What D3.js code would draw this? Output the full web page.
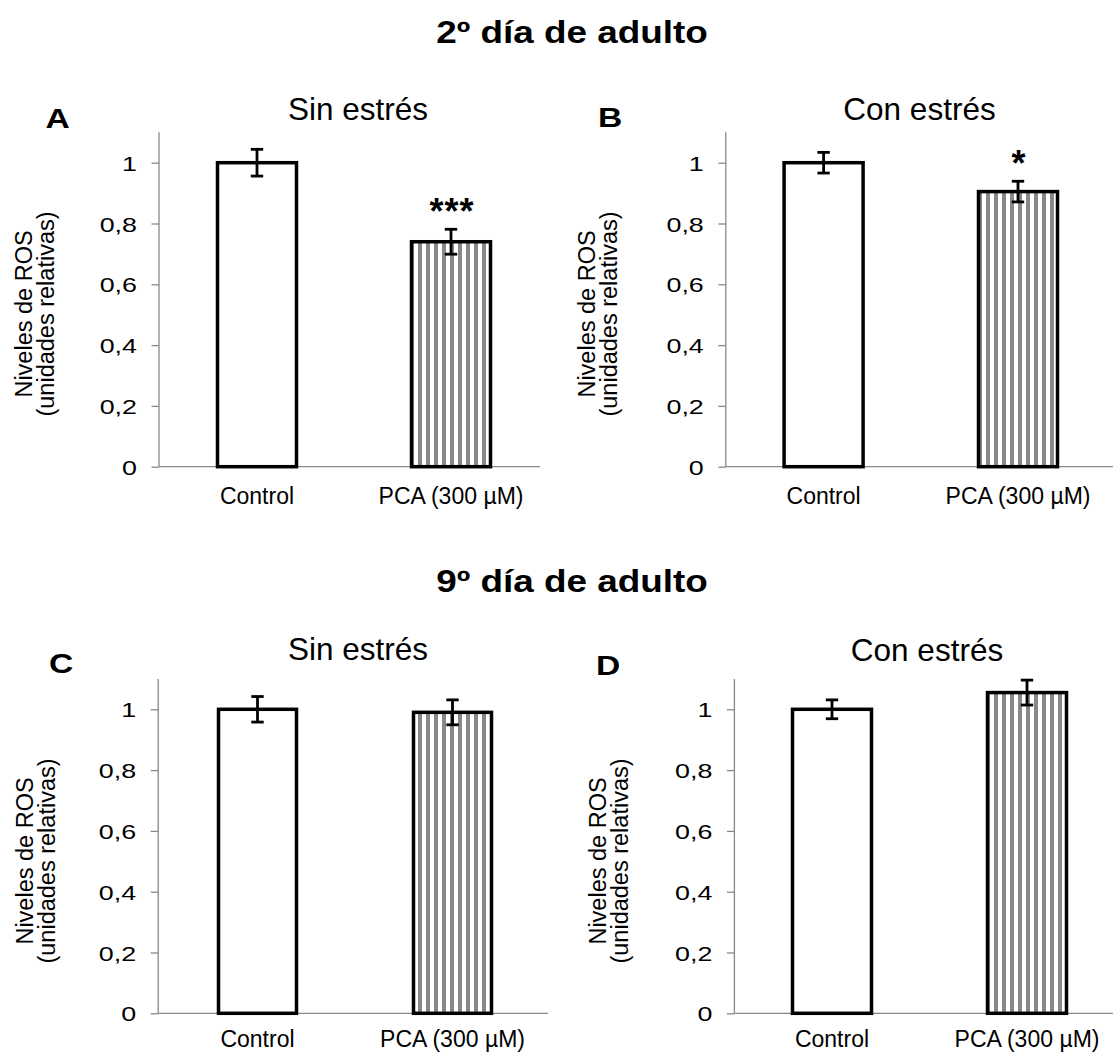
<!DOCTYPE html>
<html>
<head>
<meta charset="utf-8">
<script src="https://cdn.jsdelivr.net/npm/d3@7"></script>
<style>
  html, body { margin: 0; padding: 0; background: #fff; }
  svg { display: block; font-family: "Liberation Sans", Arial, sans-serif; }
</style>
</head>
<body>
<svg id="chart" width="1113" height="1054"></svg>
<script>
// ---------- data ----------
const categories = ["Control", "PCA (300 µM)"];
const rowTitles = ["2º día de adulto", "9º día de adulto"];
const panelLetters = ["A", "B", "C", "D"];
const panelTitles = ["Sin estrés", "Con estrés", "Sin estrés", "Con estrés"];
const valuesA = [1.00, 0.74];
const errorsA = [0.044, 0.041];
const valuesB = [1.00, 0.905];
const errorsB = [0.034, 0.034];
const valuesC = [1.00, 0.99];
const errorsC = [0.042, 0.041];
const valuesD = [1.00, 1.055];
const errorsD = [0.031, 0.041];
const signifA = ["", "***"];
const signifB = ["", "*"];
const signifC = ["", ""];
const signifD = ["", ""];
const yTicks = [0, 0.2, 0.4, 0.6, 0.8, 1];
const yTickLabels = ["0", "0,2", "0,4", "0,6", "0,8", "1"];
const yMax = 1.1;
const yLabelLines = ["Niveles de ROS", "(unidades relativas)"];

// ---------- layout (positions only) ----------
const layouts = [
  { axisX: 159, c0: 257, c1: 451, barW: 79, xEnd: 540, y0: 466.7, y1: 162.7, labY: 37,
    letter: [45.5, 128], title: [358, 119.5], yLab: [31.5, 314] },
  { axisX: 725.8, c0: 823.6, c1: 1018, barW: 79, xEnd: 1113, y0: 466.7, y1: 162.7, labY: 37,
    letter: [598, 127], title: [919.5, 120], yLab: [595, 314] },
  { axisX: 158.2, c0: 257.5, c1: 452.5, barW: 78, xEnd: 548, y0: 1013.3, y1: 709.3, labY: 34,
    letter: [49, 673], title: [358, 660], yLab: [33, 861] },
  { axisX: 734.4, c0: 832, c1: 1027, barW: 79, xEnd: 1113, y0: 1013.3, y1: 709.3, labY: 34,
    letter: [596, 675], title: [927, 661], yLab: [606, 861] }
];
const panelValues = [valuesA, valuesB, valuesC, valuesD];
const panelErrors = [errorsA, errorsB, errorsC, errorsD];
const panelSignif = [signifA, signifB, signifC, signifD];

const svg = d3.select("#chart");
const axisColor = "#898989";

// stripe pattern
const defs = svg.append("defs");
const pat = defs.append("pattern")
  .attr("id", "stripes").attr("patternUnits", "userSpaceOnUse")
  .attr("width", 8).attr("height", 8);
pat.append("rect").attr("width", 8).attr("height", 8).attr("fill", "#fff");
pat.append("rect").attr("x", 2).attr("width", 4).attr("height", 8).attr("fill", "#888888");

// row titles
const rowTitleY = [43, 592];
rowTitles.forEach((t, i) => {
  svg.append("text")
    .attr("transform", `translate(572,${rowTitleY[i]}) scale(1.19,1)`)
    .attr("text-anchor", "middle")
    .attr("font-size", 31).attr("font-weight", "bold").attr("fill", "#000")
    .text(t);
});

layouts.forEach((L, p) => {
  const vals = panelValues[p], errs = panelErrors[p], sig = panelSignif[p];
  const step = L.c1 - L.c0;
  const x = d3.scaleBand().domain(categories)
    .range([L.c0 - step / 2, L.c1 + step / 2]).padding(0);
  const y = d3.scaleLinear().domain([0, 1]).range([L.y0, L.y1]);
  const g = svg.append("g");

  // y axis
  const yAxis = d3.axisLeft(y).tickValues(yTicks)
    .tickFormat((d, i) => yTickLabels[i]).tickSize(7.5).tickSizeOuter(0);
  const ya = g.append("g").attr("transform", `translate(${L.axisX},0)`).call(yAxis);
  ya.attr("font-family", null).attr("font-size", null);
  ya.select(".domain").remove();
  ya.selectAll(".tick line").attr("stroke", axisColor).attr("stroke-width", 1.3);
  ya.selectAll(".tick text")
    .attr("font-size", 21).attr("fill", "#000")
    .attr("x", 0).attr("dy", "0.36em")
    .attr("transform", "translate(-22,0) scale(1.28,1)");
  g.append("line")
    .attr("x1", L.axisX).attr("x2", L.axisX)
    .attr("y1", y(yMax)).attr("y2", y(0))
    .attr("stroke", axisColor).attr("stroke-width", 1.3);

  // x axis
  const xAxis = d3.axisBottom(x).tickSize(0).tickPadding(0);
  const xa = g.append("g").attr("transform", `translate(0,${L.y0})`).call(xAxis);
  xa.attr("font-family", null).attr("font-size", null);
  xa.select(".domain").remove();
  xa.selectAll(".tick text").attr("font-size", 23).attr("fill", "#000")
    .attr("dy", null).attr("y", L.labY);
  g.append("line")
    .attr("x1", L.axisX).attr("x2", L.xEnd)
    .attr("y1", L.y0).attr("y2", L.y0)
    .attr("stroke", axisColor).attr("stroke-width", 1.3);

  // bars
  const bw = L.barW;
  g.selectAll("rect.bar").data(vals).join("rect")
    .attr("class", "bar")
    .attr("x", (d, i) => x(categories[i]) + x.bandwidth() / 2 - bw / 2)
    .attr("width", bw)
    .attr("y", d => y(d))
    .attr("height", d => y(0) - y(d))
    .attr("fill", (d, i) => i === 0 ? "#fff" : "url(#stripes)")
    .attr("stroke", "#000").attr("stroke-width", 3.5);

  // error bars
  const cap = 6.2;
  vals.forEach((v, i) => {
    const cx = x(categories[i]) + x.bandwidth() / 2;
    const e = errs[i];
    const eg = g.append("g").attr("stroke", "#000").attr("stroke-width", 2.8);
    eg.append("line").attr("x1", cx).attr("x2", cx).attr("y1", y(v + e)).attr("y2", y(v - e));
    eg.append("line").attr("x1", cx - cap).attr("x2", cx + cap).attr("y1", y(v + e)).attr("y2", y(v + e));
    eg.append("line").attr("x1", cx - cap).attr("x2", cx + cap).attr("y1", y(v - e)).attr("y2", y(v - e));
    if (sig[i]) {
      g.append("text")
        .attr("x", cx + 1).attr("y", y(v + e) - 5)
        .attr("text-anchor", "middle")
        .attr("font-size", 36).attr("font-weight", "bold")
        .attr("letter-spacing", 1)
        .text(sig[i]);
    }
  });

  // panel letter & title
  g.append("text")
    .attr("transform", `translate(${L.letter[0]},${L.letter[1]}) scale(1.2,1)`)
    .attr("font-size", 28).attr("font-weight", "bold").text(panelLetters[p]);
  g.append("text")
    .attr("x", L.title[0]).attr("y", L.title[1])
    .attr("text-anchor", "middle").attr("font-size", 31.5).text(panelTitles[p]);

  // y label
  const yl = g.append("text")
    .attr("transform", `translate(${L.yLab[0]},${L.yLab[1]}) rotate(-90)`)
    .attr("text-anchor", "middle").attr("font-size", 23.5);
  yLabelLines.forEach((t, i) => {
    yl.append("tspan").attr("x", 0).attr("y", i * 22).text(t);
  });
});
</script>
</body>
</html>
